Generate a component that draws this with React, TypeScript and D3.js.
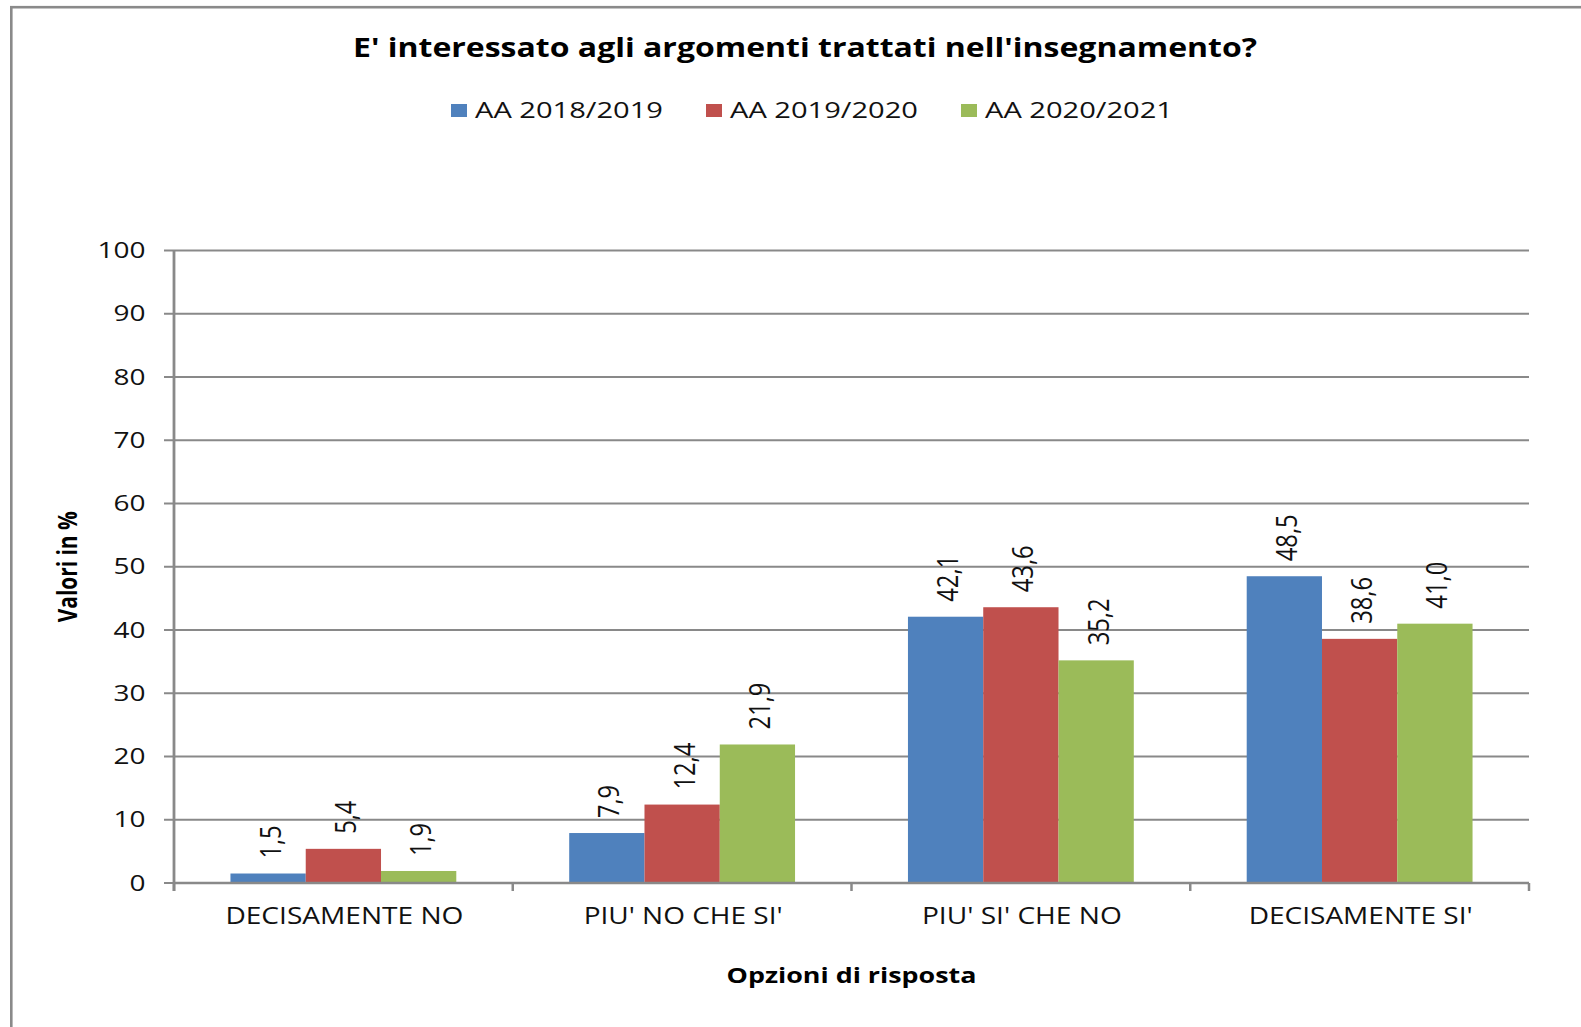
import React from "react";
import * as d3 from "d3";

const categories = ["DECISAMENTE NO", "PIU' NO CHE SI'", "PIU' SI' CHE NO", "DECISAMENTE SI'"];
const seriesNames = ["AA 2018/2019", "AA 2019/2020", "AA 2020/2021"];
const values2018 = [1.5, 7.9, 42.1, 48.5];
const values2019 = [5.4, 12.4, 43.6, 38.6];
const values2020 = [1.9, 21.9, 35.2, 41.0];
const yTicks = [0, 10, 20, 30, 40, 50, 60, 70, 80, 90, 100];
const seriesColors = ["#4F81BD", "#C0504D", "#9BBB59"];
const chartTitle = "E' interessato agli argomenti trattati nell'insegnamento?";
const xAxisTitle = "Opzioni di risposta";
const yAxisTitle = "Valori in %";

const W = 1581;
const H = 1027;
const FONT = "'Open Sans', 'DejaVu Sans', sans-serif";

// measured text widths (layout only)
const xLabelWidths: Record<string, number> = {
  "DECISAMENTE NO": 238,
  "PIU' NO CHE SI'": 199,
  "PIU' SI' CHE NO": 200,
  "DECISAMENTE SI'": 224,
};

export default function App() {
  const plotLeft = 174;
  const plotRight = 1529;
  const yTop = 250.5;
  const yBottom = 883;
  const gridColor = "#898989";

  const seriesValues = [values2018, values2019, values2020];

  const x0 = d3.scaleBand<string>().domain(categories).range([plotLeft, plotRight]).paddingInner(0).paddingOuter(0);
  const x1 = d3
    .scaleBand<string>()
    .domain(seriesNames)
    .range([0, x0.bandwidth()])
    .paddingInner(0)
    .paddingOuter(0.75);
  const y = d3.scaleLinear().domain([0, 100]).range([yBottom, yTop]);

  const fmt = (v: number) => d3.format(".1f")(v).replace(".", ",");
  const labelLen = (s: string) => [...s].reduce((a, c) => a + (c === "," ? 5.5 : 13.8), 0);
  const tickLen = (s: string) => s.length * 16;

  const boundaries = [...categories.map((c) => x0(c)!), plotRight];

  const legendX = [451, 706, 961];

  return (
    <svg
      width={W}
      height={H}
      style={{ position: "absolute", left: 0, top: 0, background: "#fff" }}
      fontFamily={FONT}
    >
      <rect x={0} y={0} width={W} height={H} fill="#fff" />
      {/* frame */}
      <rect x={11.3} y={7.2} width={1700} height={1200} fill="none" stroke="#8a8a8a" strokeWidth={2.6} />

      {/* title */}
      <text
        x={353}
        y={57}
        fontSize={27}
        fontWeight="bold"
        fill="#000"
        textLength={904}
        lengthAdjust="spacingAndGlyphs"
      >
        {chartTitle}
      </text>

      {/* legend */}
      {seriesNames.map((s, i) => (
        <g key={s}>
          <rect x={legendX[i]} y={104} width={16} height={13} fill={seriesColors[i]} />
          <text
            x={legendX[i] + 24}
            y={117.5}
            fontSize={21}
            fill="#111"
            textLength={188}
            lengthAdjust="spacingAndGlyphs"
          >
            {s}
          </text>
        </g>
      ))}

      {/* gridlines */}
      {yTicks
        .filter((t) => t > 0)
        .map((t) => (
          <line key={t} x1={plotLeft} x2={plotRight} y1={y(t)} y2={y(t)} stroke={gridColor} strokeWidth={2} />
        ))}

      {/* y ticks and labels */}
      {yTicks.map((t) => {
        const s = String(t);
        const len = tickLen(s);
        return (
          <g key={"t" + t}>
            <line x1={164} x2={plotLeft} y1={y(t)} y2={y(t)} stroke={gridColor} strokeWidth={2} />
            <text
              x={145.5 - len}
              y={y(t) + 7.5}
              fontSize={21}
              fill="#111"
              textLength={len}
              lengthAdjust="spacingAndGlyphs"
            >
              {s}
            </text>
          </g>
        );
      })}

      {/* bars */}
      {categories.map((c, ci) =>
        seriesNames.map((s, si) => {
          const v = seriesValues[si][ci];
          const bx = x0(c)! + x1(s)!;
          const bw = x1.bandwidth();
          return (
            <rect key={c + s} x={bx} y={y(v)} width={bw} height={yBottom - y(v)} fill={seriesColors[si]} />
          );
        })
      )}

      {/* data labels */}
      {categories.map((c, ci) =>
        seriesNames.map((s, si) => {
          const v = seriesValues[si][ci];
          const cx = x0(c)! + x1(s)! + x1.bandwidth() / 2;
          const label = fmt(v);
          const len = labelLen(label);
          const tx = cx + 12.5;
          const ty = y(v) - 15;
          return (
            <text
              key={"l" + c + s}
              transform={`translate(${tx},${ty}) rotate(-90)`}
              x={0}
              y={0}
              fontSize={30}
              fill="#111"
              textLength={len}
              lengthAdjust="spacingAndGlyphs"
            >
              {label}
            </text>
          );
        })
      )}

      {/* axes */}
      <line x1={plotLeft} x2={plotRight} y1={yBottom} y2={yBottom} stroke={gridColor} strokeWidth={2.5} />
      <line x1={plotLeft} x2={plotLeft} y1={yTop} y2={891} stroke={gridColor} strokeWidth={2.8} />
      {boundaries.map((bx, i) => (
        <line key={"b" + i} x1={bx} x2={bx} y1={yBottom} y2={891} stroke={gridColor} strokeWidth={2.5} />
      ))}

      {/* x labels */}
      {categories.map((c) => {
        const cx = x0(c)! + x0.bandwidth() / 2;
        const len = xLabelWidths[c];
        return (
          <text
            key={"x" + c}
            x={cx - len / 2 + 1}
            y={924}
            fontSize={23}
            fill="#111"
            textLength={len}
            lengthAdjust="spacingAndGlyphs"
          >
            {c}
          </text>
        );
      })}

      {/* x axis title */}
      <text
        x={(plotLeft + plotRight) / 2 - 125}
        y={983}
        fontSize={21}
        fontWeight="bold"
        fill="#000"
        textLength={250}
        lengthAdjust="spacingAndGlyphs"
      >
        {xAxisTitle}
      </text>

      {/* y axis title */}
      <text
        transform={`translate(77,${(yTop + yBottom) / 2 + 55.5}) rotate(-90)`}
        x={0}
        y={0}
        fontSize={26}
        fontWeight="bold"
        fill="#000"
        textLength={111}
        lengthAdjust="spacingAndGlyphs"
      >
        {yAxisTitle}
      </text>
    </svg>
  );
}
